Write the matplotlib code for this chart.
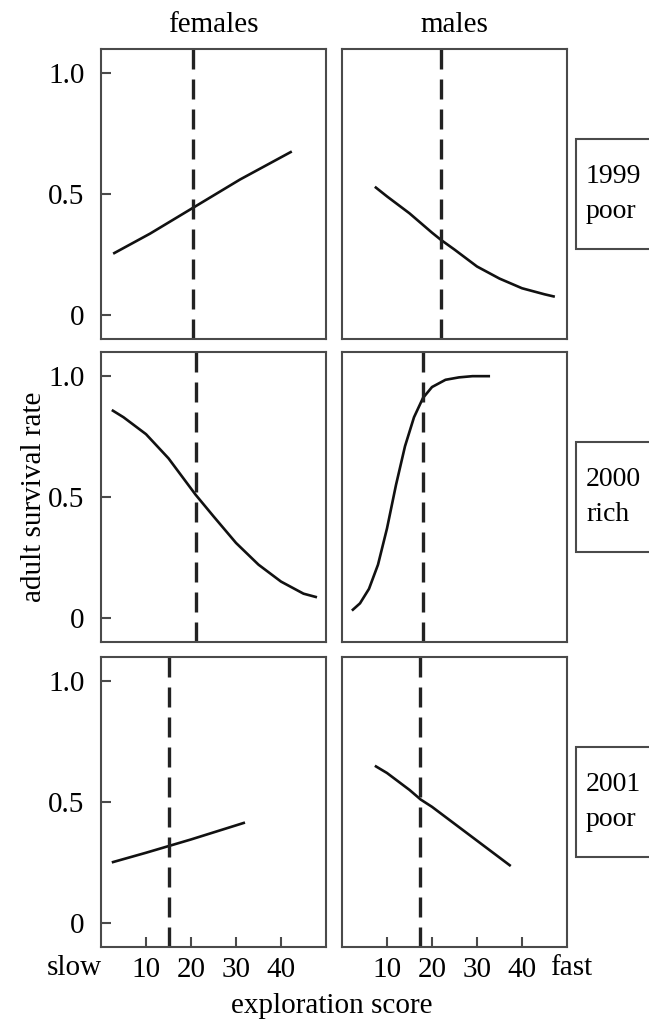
import matplotlib
matplotlib.use("Agg")
import matplotlib.pyplot as plt
from matplotlib.patches import Rectangle

# ---- data ----
rows = ["1999\npoor", "2000\nrich", "2001\npoor"]
cols = ["females", "males"]

f99_x = [2.7, 10.9, 20.9, 30.9, 42.4]
f99_y = [0.253, 0.336, 0.448, 0.560, 0.676]
m99_x = [7.3, 10, 15, 20, 22, 25, 30, 35, 40, 45, 47.3]
m99_y = [0.53, 0.49, 0.42, 0.34, 0.31, 0.27, 0.20, 0.15, 0.11, 0.085, 0.075]

f00_x = [2.4, 5, 10, 15, 21, 25, 30, 35, 40, 45, 48]
f00_y = [0.86, 0.83, 0.76, 0.66, 0.51, 0.42, 0.31, 0.22, 0.15, 0.10, 0.085]
m00_x = [2.2, 4, 6, 8, 10, 12, 14, 16, 18, 20, 23, 26, 29, 32.9]
m00_y = [0.03, 0.06, 0.12, 0.22, 0.37, 0.55, 0.71, 0.83, 0.91, 0.955, 0.985, 0.995, 1.0, 1.0]

f01_x = [2.4, 10.0, 20.0, 32.0]
f01_y = [0.25, 0.29, 0.345, 0.415]
m01_x = [7.3, 10, 15, 17.5, 20, 25, 30, 35, 37.5]
m01_y = [0.65, 0.62, 0.55, 0.51, 0.48, 0.41, 0.34, 0.27, 0.235]

curves = [[(f99_x, f99_y), (m99_x, m99_y)],
          [(f00_x, f00_y), (m00_x, m00_y)],
          [(f01_x, f01_y), (m01_x, m01_y)]]
dash_x = [[20.5, 22.0], [21.0, 18.0], [15.2, 17.4]]

yticks = [0, 0.5, 1.0]
ytick_labels = ["0", "0.5", "1.0"]
xticks = [10, 20, 30, 40]
xtick_labels = ["10", "20", "30", "40"]

# ---- figure ----
plt.rcParams['font.family'] = ['Liberation Serif', 'DejaVu Serif']
W, H = 649, 1025
fig = plt.figure(figsize=(W / 100, H / 100), dpi=100)

col_left = [101, 342]
col_w = 225
row_top = [49, 352, 657]
row_h = 290
spine_col = "#4a4a4a"
fs = 21

for r in range(3):
    for c in range(2):
        x0 = col_left[c] / W
        y0 = 1 - (row_top[r] + row_h) / H
        ax = fig.add_axes([x0, y0, col_w / W, row_h / H])
        xs, ys = curves[r][c]
        ax.plot(xs, ys, color="#111111", lw=1.9, solid_capstyle="butt")
        ax.axvline(dash_x[r][c], color="#222222", lw=2.4, dashes=(6, 3))
        ax.set_xlim(0, 50)
        ax.set_ylim(-0.1, 1.1)
        for s in ax.spines.values():
            s.set_color(spine_col)
            s.set_linewidth(1.5)
        ax.tick_params(direction="in", length=7, width=1.5, color=spine_col,
                       labelsize=fs, pad=12)
        if c == 0:
            ax.set_yticks(yticks)
            ax.set_yticklabels(ytick_labels)
        else:
            ax.set_yticks([])
        if r == 2:
            ax.set_xticks(xticks)
            ax.set_xticklabels(xtick_labels)
            ax.tick_params(axis="x", pad=7)
        else:
            ax.set_xticks([])
        if r == 0:
            fig.text((col_left[c] + col_w / 2) / W, 1 - 25 / H, cols[c],
                     fontsize=fs, ha="center", va="center")

# row labels in boxes
for r in range(3):
    yc = row_top[r] + row_h / 2
    fig.patches.append(Rectangle((576 / W, 1 - (yc + 55) / H), 100 / W, 110 / H,
                                 transform=fig.transFigure, fc="white",
                                 ec=spine_col, lw=1.5))
    fig.text(586 / W, 1 - yc / H, rows[r], fontsize=20, ha="left", va="center",
             linespacing=1.5)

# slow / fast
fig.text(74 / W, 1 - 968 / H, "slow", fontsize=fs, ha="center", va="center")
fig.text(571 / W, 1 - 968 / H, "fast", fontsize=fs, ha="center", va="center")

fig.text(332 / W, 1 - 1006 / H, "exploration score", fontsize=fs, ha="center", va="center")
fig.text(34 / W, 1 - 497 / H, "adult survival rate", fontsize=fs, ha="center", va="center",
         rotation=90)

fig.savefig("out.png", dpi=100)
